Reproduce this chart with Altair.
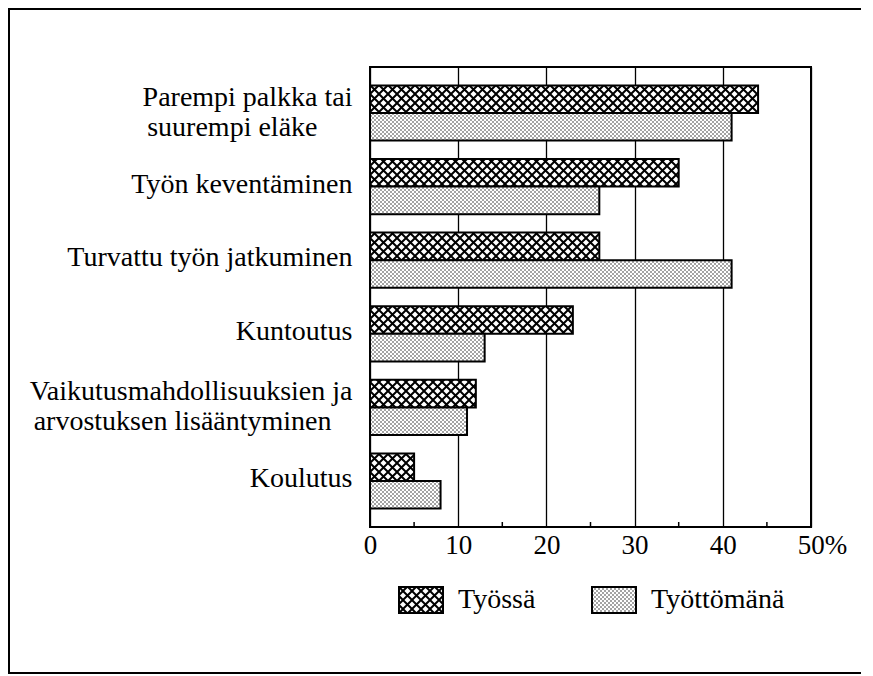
import altair as alt
import pandas as pd
import jinja2
from altair.utils import html as alt_html

# ---------------- data ----------------
# trailing no-break spaces (kept by a final zero-width space) left-align the
# second line of the wrapped labels with the first line, as in the original
categories = [
    "Parempi palkka tai\nsuurempi eläke" + "\u00a0" * 5 + "\u200b",
    "Työn keventäminen",
    "Turvattu työn jatkuminen",
    "Kuntoutus",
    "Vaikutusmahdollisuuksien ja\narvostuksen lisääntyminen" + "\u00a0" * 3 + "\u200b",
    "Koulutus",
]
series = ["Työssä", "Työttömänä"]
tyossa = [44, 35, 26, 23, 12, 5]
tyottomana = [41, 26, 41, 13, 11, 8]
tick_values = [0, 10, 20, 30, 40, 50]
minor_ticks = [5, 15, 25, 35, 45]

rows = []
for c, a, b in zip(categories, tyossa, tyottomana):
    rows.append({"category": c, "series": series[0], "value": a})
    rows.append({"category": c, "series": series[1], "value": b})
df = pd.DataFrame(rows)

pattern_fills = ["url(#xhatch)", "url(#dots)"]

W, H = 441, 460
FONT = "Liberation Serif"

bars = alt.Chart(df).mark_bar(stroke="black", strokeWidth=2).encode(
    x=alt.X(
        "value:Q",
        scale=alt.Scale(domain=[0, 50], nice=False, zero=True),
        axis=alt.Axis(
            values=tick_values, title=None, grid=True, gridColor="black",
            gridWidth=1.3, gridOpacity=1, ticks=False, domain=False,
            labelFlush=False, labelPadding=5, labelFontSize=27,
            labelColor="black", labelFont=FONT,
            labelExpr="datum.value == 50 ? '50%' : datum.label",
            labelOffset={"condition": {"test": "datum.value == 50", "value": 11}, "value": 0},
        ),
    ),
    y=alt.Y(
        "category:N", sort=categories,
        scale=alt.Scale(paddingInner=0.25, paddingOuter=0.25),
        axis=alt.Axis(
            title=None, ticks=False, domain=False, labelPadding=18,
            labelLimit=600, labelFontSize=28, labelLineHeight=30,
            labelColor="black", labelFont=FONT,
            labelExpr="split(datum.label, '\\n')",
            labelOffset={"condition": {"test": "indexof(datum.value, '\\n') >= 0", "value": -15}, "value": -2},
        ),
    ),
    yOffset=alt.YOffset("series:N", sort=series,
                        scale=alt.Scale(domain=series, paddingInner=0, paddingOuter=0)),
    fill=alt.Fill(
        "series:N", sort=series,
        scale=alt.Scale(domain=series, range=pattern_fills),
        legend=alt.Legend(
            title=None, orient="none", legendX=28, legendY=510,
            direction="horizontal", symbolType="M-1,-0.59H1V0.59H-1Z",
            symbolSize=1936, symbolStrokeColor="black", symbolStrokeWidth=2,
            labelFontSize=28, labelOffset=14, columnPadding=52, padding=0,
            labelColor="black", labelFont=FONT, symbolOpacity=1,
        ),
    ),
)

minor = alt.Chart(pd.DataFrame({"value": minor_ticks})).mark_rule(
    color="black", strokeWidth=1.5
).encode(
    x=alt.X("value:Q"),
    y=alt.value(H - 5),
    y2=alt.value(H),
)

border = alt.Chart(pd.DataFrame({"k": [0]})).mark_rect(
    fillOpacity=0, stroke="black", strokeWidth=2
).encode(
    x=alt.value(-361), x2=alt.value(560), y=alt.value(-58), y2=alt.value(606)
)

chart = (
    alt.layer(border, bars, minor)
    .properties(
        width=W, height=H,
        padding={"left": 362, "top": 59, "right": 50, "bottom": 150},
        autosize=alt.AutoSizeParams(type="none"),
    )
    .configure(font=FONT)
    .configure_view(stroke="black", strokeWidth=2)
)

DEFS = """<style>body{overflow:hidden}</style>
<svg width="0" height="0" style="position:absolute;left:0;top:0" aria-hidden="true"><defs>
<pattern id="xhatch" patternUnits="userSpaceOnUse" width="9" height="9">
<rect x="0" y="0" width="9" height="9" fill="#ffffff"/>
<path d="M0,0L9,9M9,0L0,9" stroke="#000000" stroke-width="2" fill="none"/>
</pattern>
<pattern id="dots" patternUnits="userSpaceOnUse" width="4" height="4">
<rect x="0" y="0" width="4" height="4" fill="#ffffff"/>
<circle cx="1" cy="1" r="0.7" fill="#000000"/>
<circle cx="3" cy="3" r="0.7" fill="#000000"/>
</pattern>
</defs></svg>"""

_std = getattr(alt_html, "HTML_TEMPLATE", None) or alt_html.TEMPLATES["standard"]


class PatternTemplate(jinja2.Template):
    def render(self, *args, **kwargs):
        page = _std.render(*args, **kwargs)
        if "<body>" in page:
            return page.replace("<body>", "<body>\n" + DEFS, 1)
        return DEFS + page


chart.save(
    "out.html",
    embed_options={"renderer": "svg", "actions": False},
    template=PatternTemplate(""),
)
